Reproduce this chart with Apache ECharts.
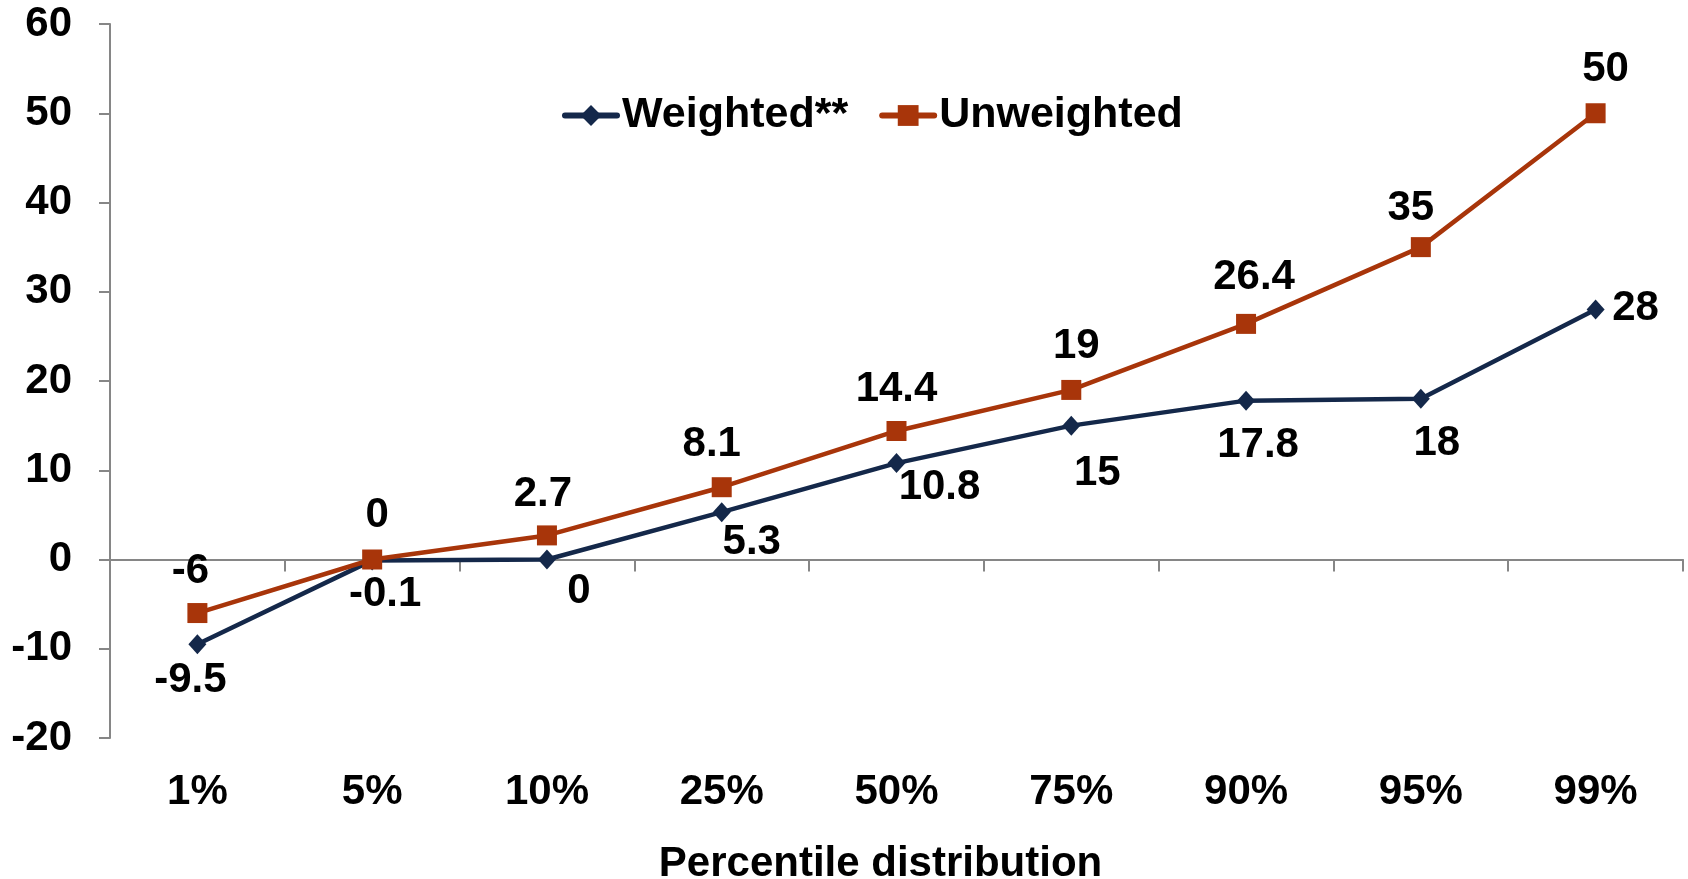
<!DOCTYPE html>
<html>
<head>
<meta charset="utf-8">
<title>Percentile distribution</title>
<script src="https://cdn.jsdelivr.net/npm/echarts@6/dist/echarts.min.js"></script>
<style>
  html, body { margin: 0; padding: 0; background: #ffffff; }
  #chart { width: 1688px; height: 879px; }
</style>
</head>
<body>
<div id="chart"></div>
<script>
// Percentile categories along the x axis
const percentiles = ['1%', '5%', '10%', '25%', '50%', '75%', '90%', '95%', '99%'];

// Series values
const weighted = [-9.5, -0.1, 0, 5.3, 10.8, 15, 17.8, 18, 28];
const unweighted = [-6, 0, 2.7, 8.1, 14.4, 19, 26.4, 35, 50];

// Value axis range
const yMin = -20;
const yMax = 60;
const yStep = 10;

// Label nudges (pixels from each marker centre)
const weightedLabelShift = [[-7, 36], [13, 34], [32, 32], [30, 30], [43, 24], [26, 48], [12, 45], [16, 45], [40, -1]];
const unweightedLabelShift = [[-7, -42], [5, -44], [-4, -41], [-10, -43], [0, -42], [5, -44], [8, -46], [-10, -39], [10, -44]];

const FONT = "'Liberation Sans', Arial, Helvetica, sans-serif";
const AXIS_GREY = '#868686';
const NAVY = '#14284A';
const RUST = '#A8350A';

const labelText = {
  color: '#000000',
  fontFamily: FONT,
  fontWeight: 'bold',
  fontSize: 42
};

function pointsWithLabels(values, shifts) {
  return values.map((v, i) => ({
    value: v,
    label: { offset: shifts[i] }
  }));
}

const chart = echarts.init(document.getElementById('chart'), null, { renderer: 'canvas' });

chart.setOption({
  animation: false,
  backgroundColor: '#ffffff',
  textStyle: { fontFamily: FONT },
  grid: { left: 110, right: 5, top: 24, bottom: 141, containLabel: false, outerBoundsMode: 'none' },
  legend: {
    left: 562,
    top: 94,
    padding: 0,
    itemWidth: 52,
    itemHeight: 26,
    itemGap: 31,
    lineStyle: { width: 6, cap: 'round' },
    textStyle: { color: '#000000', fontFamily: FONT, fontWeight: 'bold', fontSize: 43 },
    data: ['Weighted**', 'Unweighted']
  },
  xAxis: [
    {
      // labels and title along the bottom edge
      type: 'category',
      data: percentiles,
      position: 'bottom',
      boundaryGap: true,
      axisLine: { show: false, onZero: false },
      axisTick: { show: false },
      axisLabel: {
        show: true,
        interval: 0,
        margin: 33,
        color: '#000000',
        fontFamily: FONT,
        fontWeight: 'bold',
        fontSize: 42
      },
      splitLine: { show: false },
      name: 'Percentile distribution',
      nameLocation: 'middle',
      nameGap: 105,
      nameTextStyle: {
        color: '#000000',
        fontFamily: FONT,
        fontWeight: 'bold',
        fontSize: 42,
        padding: [0, 32, 0, 0]
      }
    },
    {
      // baseline drawn through zero with category ticks
      type: 'category',
      data: percentiles,
      position: 'bottom',
      boundaryGap: true,
      axisLine: { show: true, onZero: true, lineStyle: { color: AXIS_GREY, width: 2 } },
      axisTick: { show: true, interval: 0, length: 12, lineStyle: { color: AXIS_GREY, width: 2 } },
      axisLabel: { show: false },
      splitLine: { show: false }
    }
  ],
  yAxis: {
    type: 'value',
    min: yMin,
    max: yMax,
    interval: yStep,
    axisLine: { show: true, lineStyle: { color: AXIS_GREY, width: 2 } },
    axisTick: { show: true, length: 11, lineStyle: { color: AXIS_GREY, width: 2 } },
    splitLine: { show: false },
    axisLabel: {
      margin: 38,
      color: '#000000',
      fontFamily: FONT,
      fontWeight: 'bold',
      fontSize: 42
    }
  },
  series: [
    {
      name: 'Weighted**',
      type: 'line',
      xAxisIndex: 0,
      data: pointsWithLabels(weighted, weightedLabelShift),
      symbol: 'diamond',
      symbolSize: [18, 20],
      showAllSymbol: true,
      color: NAVY,
      lineStyle: { color: NAVY, width: 4.5 },
      itemStyle: { color: NAVY },
      label: Object.assign({ show: true, position: 'inside', align: 'center', verticalAlign: 'middle' }, labelText),
      emphasis: { disabled: true },
      z: 2
    },
    {
      name: 'Unweighted',
      type: 'line',
      xAxisIndex: 0,
      data: pointsWithLabels(unweighted, unweightedLabelShift),
      symbol: 'rect',
      symbolSize: 20,
      showAllSymbol: true,
      color: RUST,
      lineStyle: { color: RUST, width: 4.5 },
      itemStyle: { color: RUST },
      label: Object.assign({ show: true, position: 'inside', align: 'center', verticalAlign: 'middle' }, labelText),
      emphasis: { disabled: true },
      z: 3
    }
  ]
});
</script>
</body>
</html>
